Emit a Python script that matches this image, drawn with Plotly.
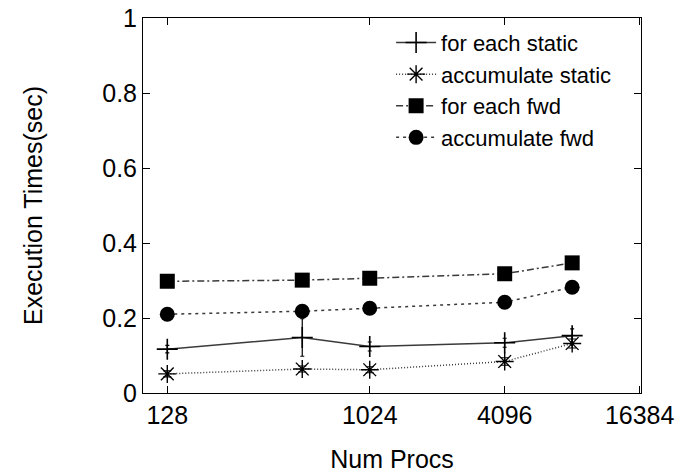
import plotly.graph_objects as go
import math

procs = [128, 512, 1024, 4096, 8192]
foreach_static = [0.117, 0.148, 0.124, 0.134, 0.153]
foreach_static_err = [0.010, 0.050, 0.012, 0.012, 0.018]
accum_static = [0.051, 0.064, 0.062, 0.084, 0.132]
accum_static_err = [0.008, 0.008, 0.008, 0.010, 0.012]
foreach_fwd = [0.298, 0.301, 0.306, 0.318, 0.347]
accum_fwd = [0.210, 0.218, 0.226, 0.242, 0.282]

x_ticks = [128, 1024, 4096, 16384]
y_ticks = [0, 0.2, 0.4, 0.6, 0.8, 1]

FONT = "Liberation Sans, Arial, sans-serif"
LINE = "#3a3a3a"
FS = 25

fig = go.Figure()
fig.add_trace(go.Scatter(
    x=procs, y=foreach_static, name="for each static", mode="lines+markers",
    line=dict(color=LINE, width=1.5, dash="solid"),
    marker=dict(symbol="cross-thin", size=15, color="black", line=dict(color="black", width=1.6)),
    error_y=dict(type="data", array=foreach_static_err, color="black", thickness=1.2, width=2),
))
fig.add_trace(go.Scatter(
    x=procs, y=accum_static, name="accumulate static", mode="lines+markers",
    line=dict(color=LINE, width=1.5, dash="1px,2px"),
    marker=dict(symbol="asterisk", size=15, color="black", line=dict(color="black", width=1.4)),
    error_y=dict(type="data", array=accum_static_err, color="black", thickness=1.2, width=4),
))
fig.add_trace(go.Scatter(
    x=procs, y=foreach_fwd, name="for each fwd", mode="lines+markers",
    line=dict(color=LINE, width=1.5, dash="7px,3px,2px,3px"),
    marker=dict(symbol="square", size=15, color="black"),
))
fig.add_trace(go.Scatter(
    x=procs, y=accum_fwd, name="accumulate fwd", mode="lines+markers",
    line=dict(color=LINE, width=1.5, dash="3px,4px"),
    marker=dict(symbol="circle", size=15, color="black"),
))

xr = [6.64 * math.log10(2), 14.02 * math.log10(2)]
fig.update_layout(
    width=677, height=473,
    margin=dict(l=143, r=36, t=18, b=80),
    paper_bgcolor="white", plot_bgcolor="white",
    font=dict(family=FONT, size=FS, color="black"),
    showlegend=True,
    legend=dict(x=0.95, y=0.99, xanchor="right", yanchor="top",
                bgcolor="rgba(0,0,0,0)", font=dict(size=22),
                tracegroupgap=0, itemwidth=40),
    xaxis=dict(type="log", range=xr, tickvals=x_ticks,
               ticktext=[str(v) for v in x_ticks],
               ticks="inside", ticklen=7, tickcolor="black",
               showline=True, linecolor="black", linewidth=1, mirror="ticks",
               showgrid=False, zeroline=False, automargin=False,
               title=dict(text="Num Procs", font=dict(size=FS), standoff=22),
               tickfont=dict(size=FS)),
    yaxis=dict(range=[0, 1], tickvals=y_ticks,
               ticktext=["0", "0.2", "0.4", "0.6", "0.8", "1"],
               ticks="inside", ticklen=7, tickcolor="black",
               showline=True, linecolor="black", linewidth=1, mirror="ticks",
               showgrid=False, zeroline=False, automargin=False,
               title=dict(text="Execution Times(sec)", font=dict(size=FS), standoff=52),
               tickfont=dict(size=FS)),
)

fig.write_html("out.html")
